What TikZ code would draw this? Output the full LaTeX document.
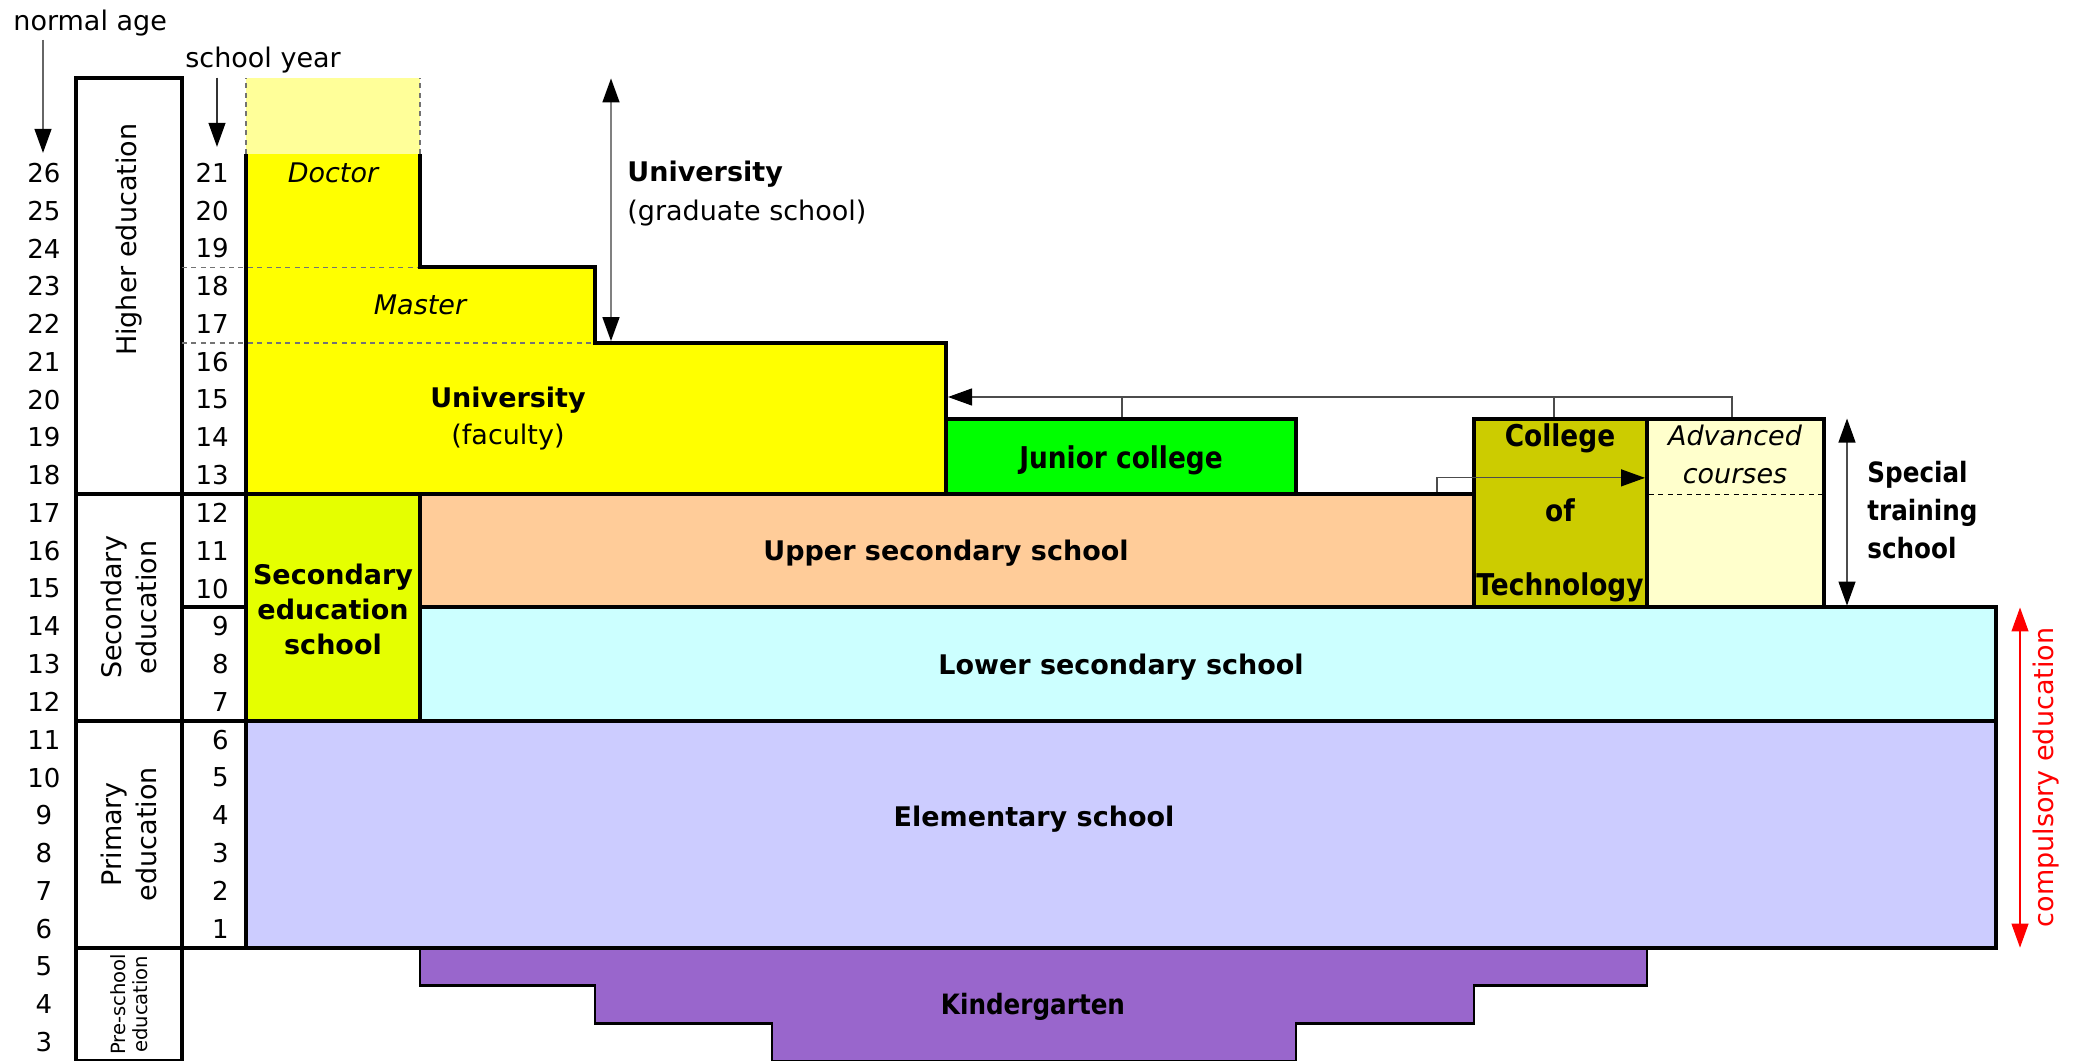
\documentclass[tikz,border=0pt]{standalone}
\usepackage{fontspec}
\setmainfont{DejaVu Sans}
\newfontfamily\condfont[FakeStretch=0.88]{DejaVu Sans}
\usetikzlibrary{arrows.meta}
\definecolor{cYellow}{HTML}{FFFF00}
\definecolor{cLight}{HTML}{FFFF99}
\definecolor{cSecEd}{HTML}{E5FF00}
\definecolor{cUpper}{HTML}{FFCC99}
\definecolor{cLower}{HTML}{CCFFFF}
\definecolor{cElem}{HTML}{CCCCFF}
\definecolor{cGreen}{HTML}{00FF00}
\definecolor{cTech}{HTML}{CCCC00}
\definecolor{cAdv}{HTML}{FFFFCC}
\definecolor{cKinder}{HTML}{9966CC}
\tikzset{
  blk/.style={draw=black, line width=2pt},
  conn/.style={draw=black!70, line width=0.6pt},
  gdash/.style={draw=black!55, line width=0.6pt, dash pattern=on 2.5pt off 2.2pt},
  kdash/.style={draw=black, line width=0.6pt, dash pattern=on 2.5pt off 2.2pt},
  tipA/.style={arrows={-Triangle[length=12pt,width=8.5pt,color=black]}},
  tipB/.style={arrows={Triangle[length=12pt,width=8.5pt,color=black]-Triangle[length=12pt,width=8.5pt,color=black]}},
  tipR/.style={arrows={Triangle[length=12pt,width=8.5pt]-Triangle[length=12pt,width=8.5pt]}},
  lbl/.style={inner sep=0pt, font=\fontsize{13.5}{17.5}\selectfont},
  blbl/.style={inner sep=0pt, font=\fontsize{13.5}{17.5}\selectfont\bfseries},
  clbl/.style={inner sep=0pt, font=\fontsize{15}{19}\selectfont\condfont\bfseries},
  ilbl/.style={inner sep=0pt, font=\fontsize{13.5}{19}\selectfont\itshape},
  num/.style={inner sep=0pt, font=\fontsize{13}{15}\selectfont},
}
\begin{document}
\begin{tikzpicture}[x=0.5pt,y=18.895pt]
\useasboundingbox (0,2) rectangle (2073,30.076);
\fill[white] (0,2) rectangle (2073,30.076);

% ---- kindergarten
\draw[draw=black, line width=1.4pt, fill=cKinder] (420,5) -- (1647,5) -- (1647,4) -- (1474,4) -- (1474,3) -- (1296,3) -- (1296,2) -- (772,2) -- (772,3) -- (595,3) -- (595,4) -- (420,4) -- cycle;

% ---- left label boxes
\draw[blk, fill=white] (76,17) rectangle (182,28);
\draw[blk, fill=white] (76,11) rectangle (182,17);
\draw[blk, fill=white] (76,5) rectangle (182,11);
\draw[blk, fill=white] (76,2) rectangle (182,5);
\draw[blk] (182,14) rectangle (246,17);
\draw[blk] (182,11) rectangle (246,14);
\draw[blk] (182,5) rectangle (246,11);

% ---- university block
\fill[cLight] (246,26) rectangle (420,28);
\draw[gdash] (246,26) -- (246,28);
\draw[gdash] (420,26) -- (420,28);
\fill[cYellow] (246,17) -- (246,26) -- (420,26) -- (420,23) -- (595,23) -- (595,21) -- (946,21) -- (946,17) -- cycle;
\draw[gdash] (182,23) -- (420,23);
\draw[gdash] (182,21) -- (595,21);
\draw[blk] (246,26) -- (246,17) -- (946,17) -- (946,21) -- (595,21) -- (595,23) -- (420,23) -- (420,26);

% ---- schools
\draw[blk, fill=cElem] (246,5) rectangle (1996,11);
\draw[blk, fill=cLower] (420,11) rectangle (1996,14);
\draw[blk, fill=cUpper] (420,14) rectangle (1474,17);
\draw[blk, fill=cSecEd] (246,11) rectangle (420,17);
\draw[blk, fill=cGreen] (946,17) rectangle (1296,19);
\draw[blk, fill=cTech] (1474,14) rectangle (1647,19);
\draw[blk, fill=cAdv] (1647,14) rectangle (1824,19);
\draw[kdash] (1649,17) -- (1822,17);

% ---- named anchor points for connectors
\coordinate (advTop) at (1732,19.05);
\coordinate (ctTop) at (1554,19.05);
\coordinate (jcTop) at (1122,19.05);
\coordinate (uniR) at (948,19.57);
\coordinate (usTop) at (1437,17.05);
\coordinate (advL) at (1645,17.43);
\coordinate (gradTop) at (611,28);
\coordinate (gradBot) at (611,21.05);
\coordinate (stTop) at (1847,19);
\coordinate (stBot) at (1847,14.05);
\coordinate (ceTop) at (2020,14);
\coordinate (ceBot) at (2020,5);
\coordinate (naEnd) at (43,26.03);
\coordinate (syEnd) at (217,26.19);

\draw[conn, tipA] (advTop) |- (uniR);
\draw[conn] (jcTop) -- (jcTop |- uniR);
\draw[conn] (ctTop) -- (ctTop |- uniR);
\draw[conn, tipA] (usTop) |- (advL);
\draw[draw=black!50, line width=0.8pt, tipB] (gradBot) -- (gradTop);
\draw[conn, tipB] (stBot) -- (stTop);
\draw[red, line width=0.6pt, tipR] (ceBot) -- (ceTop);

% ---- headers
\node[lbl, anchor=base west] (naLabel) at (13,29.28) {normal age};
\node[lbl, anchor=base west] (syLabel) at (185,28.28) {school year};
\draw[draw=black!60, line width=0.6pt, tipA] (naEnd |- naLabel.south) ++(0,-0.1) -- (naEnd);
\draw[draw=black!80, line width=0.6pt, tipA] (syEnd |- syLabel.south) ++(0,-0.1) -- (syEnd);

% ---- ages and school years
\foreach \a in {3,...,26} \node[num] (age\a) at (44,\a-0.5) {\a};
\foreach \y in {1,...,21} \node[num, anchor=east] (yr\y) at (229,\y+4.5) {\y};

% ---- level labels
\node[lbl, rotate=90] (lHigher) at (129,23.73) {Higher education};
\node[lbl, rotate=90, align=center] (lSec) at (129,14) {Secondary\\education};
\node[lbl, rotate=90, align=center] (lPrim) at (129,8) {Primary\\education};
\node[inner sep=0pt, rotate=90, align=center, font=\fontsize{9.8}{11}\selectfont] (lPre) at (129,3.5) {Pre-school\\education};
\node[lbl, rotate=90, text=red] (lComp) at (2046,9.5) {compulsory education};

% ---- school labels
\node[ilbl, anchor=base] (tDoctor) at (333,25.24) {Doctor};
\node[ilbl, anchor=base] (tMaster) at (420,21.74) {Master};
\node[blbl, anchor=base] (tUniv) at (508,19.28) {University};
\node[lbl, anchor=base] (tFac) at (508,18.30) {(faculty)};
\node[blbl, anchor=base west] (tGrad) at (627,25.27) {University};
\node[lbl, anchor=base west] (tGrad2) at (627,24.25) {(graduate school)};
\node[blbl, align=center] (tSecEd) at (333,13.95) {Secondary\\education\\school};
\node[blbl, anchor=base] (tUpper) at (946,15.24) {Upper secondary school};
\node[blbl, anchor=base] (tLower) at (1121,12.24) {Lower secondary school};
\node[blbl, anchor=base] (tElem) at (1034,8.2) {Elementary school};
\node[clbl, anchor=base] (tJunior) at (1121,17.68) {Junior college};
\node[clbl, anchor=base] (tCol1) at (1560,18.27) {College};
\node[clbl, anchor=base] (tCol2) at (1560,16.27) {of};
\node[clbl, anchor=base] (tCol3) at (1560,14.31) {Technology};
\node[ilbl, anchor=base] (tAdv1) at (1735,18.29) {Advanced};
\node[ilbl, anchor=base] (tAdv2) at (1735,17.29) {courses};
\node[clbl, font=\fontsize{14}{19}\selectfont\condfont\bfseries, anchor=base west] (tSp1) at (1867,17.3) {Special};
\node[clbl, font=\fontsize{14}{19}\selectfont\condfont\bfseries, anchor=base west] (tSp2) at (1867,16.3) {training};
\node[clbl, font=\fontsize{14}{19}\selectfont\condfont\bfseries, anchor=base west] (tSp3) at (1867,15.3) {school};
\node[clbl, font=\fontsize{14}{19}\selectfont\condfont\bfseries, anchor=base] (tKinder) at (1033,3.22) {Kindergarten};
\end{tikzpicture}
\end{document}
